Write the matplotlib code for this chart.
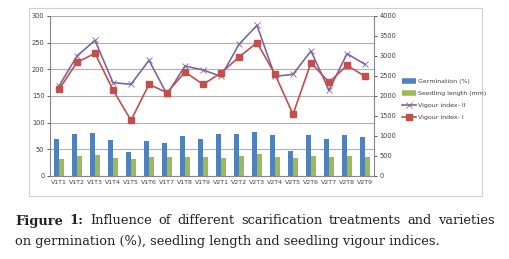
import matplotlib.pyplot as plt
import numpy as np
from matplotlib.patches import Rectangle
from matplotlib.lines import Line2D

labels = ['V1T1', 'V1T2', 'V1T3', 'V1T4', 'V1T5', 'V1T6', 'V1T7', 'V1T8', 'V1T9',
          'V2T1', 'V2T2', 'V2T3', 'V2T4', 'V2T5', 'V2T6', 'V2T7', 'V2T8', 'V2T9']
germination = [69, 78, 81, 67, 45, 66, 61, 75, 69, 78, 79, 83, 76, 47, 77, 69, 76, 74]
seedling_len = [32, 37.5, 39, 34, 31, 36, 35, 35, 35, 34, 37.5, 41, 35, 34, 37, 35, 37, 35]
vigour_1 = [2167, 2842, 3067, 2150, 1392, 2292, 2083, 2600, 2292, 2575, 2975, 3333,
            2542, 1542, 2833, 2342, 2767, 2492]
vigour_2 = [2250, 3000, 3392, 2333, 2292, 2892, 2042, 2750, 2650, 2492, 3292, 3767,
            2492, 2542, 3125, 2142, 3058, 2792]

blue = '#4F81BD'
green = '#9BBB59'
red = '#C0504D'
purple = '#8064A2'
axis_grey = '#868686'
txt = '#404040'

fig = plt.figure(figsize=(5.09, 2.59), dpi=100)
fig.patches.append(Rectangle((29 / 509, 1 - 196 / 259), 453 / 509, 188 / 259,
                             transform=fig.transFigure, fill=False,
                             edgecolor='#d0d0d0', linewidth=0.8))

ax = fig.add_axes([50 / 509, 1 - 176 / 259, 324 / 509, 160 / 259])
x = np.arange(len(labels))
w = 0.3
ax.bar(x - w / 2, germination, w, color=blue, label='Germination (%)', zorder=2)
ax.bar(x + w / 2, seedling_len, w, color=green, label='Seedling length (mm)', zorder=2)
ax.set_ylim(0, 300)
ax.set_yticks(range(0, 301, 50))
ax.set_xlim(-0.5, len(labels) - 0.5)
ax.set_xticks(x)
ax.set_xticklabels(labels)
ax.yaxis.grid(True, color='#b0b0b0', linewidth=0.8, zorder=0)
ax.set_axisbelow(True)
ax.tick_params(axis='both', labelsize=4.8, colors=txt, length=2, width=0.6, pad=2)
ax.tick_params(axis='x', length=0, pad=3, labelsize=4.5)
for s in ['top', 'right']:
    ax.spines[s].set_visible(False)
for s in ['left', 'bottom']:
    ax.spines[s].set_color(axis_grey)
    ax.spines[s].set_linewidth(0.8)

ax2 = ax.twinx()
ax2.plot(x, vigour_2, color=purple, marker='x', markersize=4, markeredgewidth=0.6,
         linewidth=1.2, label='Vigour index- II', zorder=3)
ax2.plot(x, vigour_1, color=red, marker='s', markersize=4, linewidth=1.2,
         label='Vigour index- I', zorder=3)
ax2.set_ylim(0, 4000)
ax2.set_yticks(range(0, 4001, 500))
ax2.tick_params(axis='y', labelsize=4.8, colors=txt, length=2, width=0.6, pad=2)
for s in ['top', 'left', 'bottom']:
    ax2.spines[s].set_visible(False)
ax2.spines['right'].set_color(axis_grey)
ax2.spines['right'].set_linewidth(0.8)

handles = [
    Line2D([], [], color=blue, linewidth=4, solid_capstyle='butt'),
    Line2D([], [], color=green, linewidth=4, solid_capstyle='butt'),
    Line2D([], [], color=purple, marker='x', markersize=4, markeredgewidth=0.6, linewidth=1.2),
    Line2D([], [], color=red, marker='s', markersize=4, linewidth=1.2),
]
names = ['Germination (%)', 'Seedling length (mm)', 'Vigour index- II', 'Vigour index- I']
fig.legend(handles, names, loc='upper left', bbox_to_anchor=(402 / 509, 1 - 79 / 259),
           frameon=False, fontsize=4.5, handlelength=2.3, handletextpad=0.2,
           labelspacing=1.05, borderaxespad=0, borderpad=0, labelcolor=txt)

# caption, first line justified, second left aligned
fig.canvas.draw()
r = fig.canvas.get_renderer()
serif = 'DejaVu Serif'
line2 = 'on germination (%), seedling length and seedling vigour indices.'
probe = fig.text(0, 0, line2, fontsize=9, family=serif)
fs = 9 * (428 / 509) / (probe.get_window_extent(r).width / fig.bbox.width)
probe.remove()

line1 = [('Figure', 'bold'), ('1:', 'bold'), ('Influence', 'normal'), ('of', 'normal'),
         ('different', 'normal'), ('scarification', 'normal'), ('treatments', 'normal'),
         ('and', 'normal'), ('varieties', 'normal')]
x0, x1 = 15 / 509, 495 / 509
y1 = 1 - 221 / 259
texts = []
total = 0
for word, wt in line1:
    t = fig.text(0, y1, word, fontsize=fs, family=serif, fontweight=wt,
                 color='#222222', va='center', ha='left')
    wpx = t.get_window_extent(r).width / fig.bbox.width
    texts.append((t, wpx))
    total += wpx
gap = (x1 - x0 - total) / (len(line1) - 1)
pos = x0
for t, wpx in texts:
    t.set_x(pos)
    pos += wpx + gap
fig.text(x0, 1 - 242 / 259, line2, fontsize=fs, family=serif, color='#222222',
         va='center', ha='left')

fig.savefig('out.png', dpi=100)
